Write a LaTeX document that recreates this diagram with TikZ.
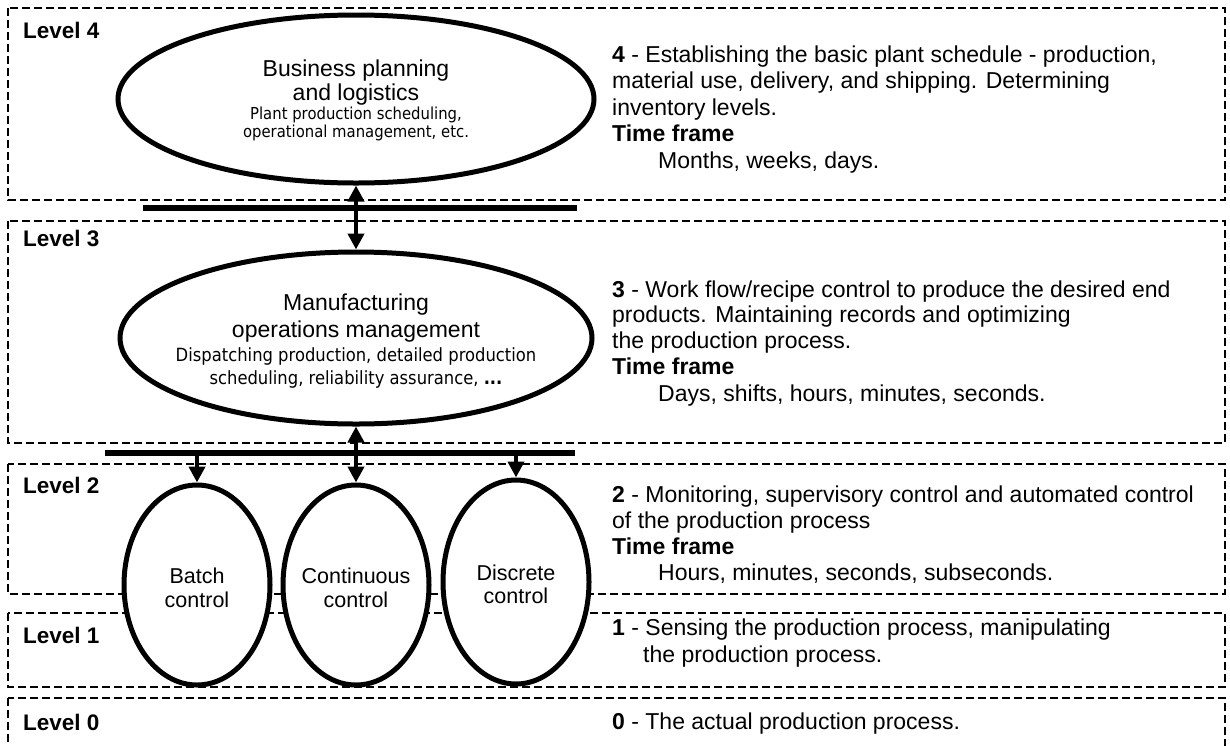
\documentclass[tikz,border=0pt]{standalone}
\usepackage{fontspec}
\setmainfont{Liberation Sans}
\newfontfamily\subfont[FakeStretch=0.9]{DejaVu Sans}
\usetikzlibrary{arrows.meta,shapes.geometric}
\tikzset{
  lvlbox/.style={draw, line width=2pt, dash pattern=on 8pt off 4pt},
  oval/.style={draw, ellipse, line width=5pt, fill=white, inner sep=0pt},
  busbar/.style={line width=6.5pt},
  arr/.style={line width=4pt, -{Triangle[width=16pt,length=16pt]}},
  biarr/.style={line width=4pt, {Triangle[width=16pt,length=16pt]}-{Triangle[width=16pt,length=16pt]}},
  lvl/.style={anchor=base west, inner sep=0pt, font=\fontsize{22.5}{26}\selectfont\bfseries},
  desc/.style={anchor=base west, inner sep=0pt, font=\fontsize{23}{26}\selectfont},
  ttl/.style={anchor=base, inner sep=0pt, font=\fontsize{23}{26}\selectfont},
  subt/.style={anchor=base, inner sep=0pt, font=\subfont\fontsize{18.2}{22}\selectfont},
  subs/.style={anchor=base, inner sep=0pt, font=\subfont\fontsize{16.5}{19}\selectfont},
  sml/.style={anchor=base, inner sep=0pt, font=\fontsize{21.5}{24}\selectfont},
}
\begin{document}
\begin{tikzpicture}[x=1pt,y=-1pt]
\useasboundingbox (0,0) rectangle (1230,745);
\fill[white] (0,0) rectangle (1230,745);
\clip (0,0) rectangle (1230,745);
% level boxes
\draw[lvlbox] (8,8) rectangle (1225,200);
\draw[lvlbox] (8,221) rectangle (1225,443);
\draw[lvlbox] (8,464) rectangle (1225,594);
\draw[lvlbox] (8,613) rectangle (1225,687);
\draw[lvlbox] (8,698) rectangle (1225,780);
% level labels
\node[lvl] (lab4) at (23,38) {Level 4};
\node[lvl] (lab3) at (23,246) {Level 3};
\node[lvl] (lab2) at (23,493) {Level 2};
\node[lvl] (lab1) at (23,643) {Level 1};
\node[lvl] (lab0) at (23,730) {Level 0};
% bars
\coordinate (b1w) at (143,208); \coordinate (b1e) at (577,208);
\draw[busbar] (b1w) -- (b1e);
\coordinate (b2w) at (105,453); \coordinate (b2e) at (575,453);
\draw[busbar] (b2w) -- (b2e);
\coordinate (b2l) at (197,453); \coordinate (b2r) at (516,453);
% ellipses
\node[oval, minimum width=476pt, minimum height=168pt] (bp) at (356,99) {};
\node[oval, minimum width=472pt, minimum height=172pt] (mom) at (356,338) {};
\node[oval, minimum width=146pt, minimum height=200pt] (batch) at (197,585) {};
\node[oval, minimum width=146pt, minimum height=200pt] (cont) at (356,585) {};
\node[oval, minimum width=146pt, minimum height=204pt] (disc) at (516,582) {};
% arrows
\draw[biarr] (bp.south) -- (mom.north);
\draw[biarr] (mom.south) -- (cont.north);
\draw[arr] (b2l) -- (batch.north);
\draw[arr] (b2r) -- (disc.north);
% ellipse texts
\node[ttl] (bp1) at (356,76) {Business planning};
\node[ttl] (bp2) at (356,100) {and logistics};
\node[subs] (bp3) at (356,119) {Plant production scheduling,};
\node[subs] (bp4) at (356,137) {operational management, etc.};
\node[ttl] (m1) at (356,310) {Manufacturing};
\node[ttl] (m2) at (356,337) {operations management};
\node[subt] (m3) at (356,361) {Dispatching production, detailed production};
\node[subt] (m4) at (356,384) {scheduling, reliability assurance, \textbf{...}};
\node[sml] (ba1) at (197,583) {Batch};
\node[sml] (ba2) at (197,607) {control};
\node[sml] (co1) at (356,583) {Continuous};
\node[sml] (co2) at (356,607) {control};
\node[sml] (di1) at (516,580) {Discrete};
\node[sml] (di2) at (516,603) {control};
% right descriptions
\node[desc] (t4a) at (612,62) {\textbf{4} - Establishing the basic plant schedule - production,};
\node[desc] (t4b) at (612,88.5) {material use, delivery, and shipping. Determining};
\node[desc] (t4c) at (612,115) {inventory levels.};
\node[desc] (t4d) at (612,141.5) {\textbf{Time frame}};
\node[desc] (t4e) at (658,168) {Months, weeks, days.};
\node[desc] (t3a) at (612,297) {\textbf{3} - Work flow/recipe control to produce the desired end};
\node[desc] (t3b) at (612,322.5) {products. Maintaining records and optimizing};
\node[desc] (t3c) at (612,348) {the production process.};
\node[desc] (t3d) at (612,374) {\textbf{Time frame}};
\node[desc] (t3e) at (658,401) {Days, shifts, hours, minutes, seconds.};
\node[desc] (t2a) at (612,502) {\textbf{2} - Monitoring, supervisory control and automated control};
\node[desc] (t2b) at (612,528) {of the production process};
\node[desc] (t2c) at (612,554) {\textbf{Time frame}};
\node[desc] (t2d) at (658,580) {Hours, minutes, seconds, subseconds.};
\node[desc] (t1a) at (612,635) {\textbf{1} - Sensing the production process, manipulating};
\node[desc] (t1b) at (643,662) {the production process.};
\node[desc] (t0a) at (612,729) {\textbf{0} - The actual production process.};
\end{tikzpicture}
\end{document}
